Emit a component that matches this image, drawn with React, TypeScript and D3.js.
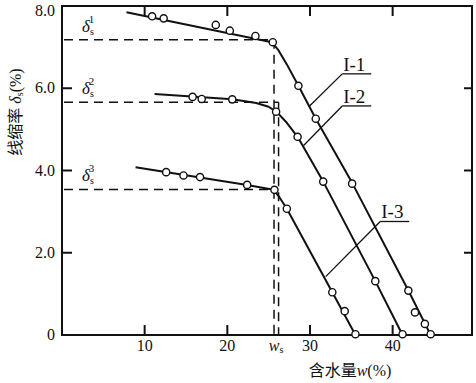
import React from "react";
import * as d3 from "d3";

// ---- data ----
const xTicks = [10, 20, 30, 40];
const yTicks = [0, 2, 4, 6, 8];
const yTickLabels = ["0", "2.0", "4.0", "6.0", "8.0"];

// line nodes (water content %, shrinkage %)
const lineI1: [number, number][] = [
  [7.8, 7.85], [25.4, 7.12], [26.2, 6.92], [27.2, 6.58], [28.6, 6.06], [30.7, 5.26], [35.1, 3.7], [41.9, 1.08], [44.6, 0.0],
];
const lineI2: [number, number][] = [
  [11.2, 5.86], [20.6, 5.73], [23.5, 5.64], [25.0, 5.55], [26.0, 5.42], [27.2, 5.16], [28.5, 4.82], [31.6, 3.73], [37.9, 1.31], [41.2, 0.0],
];
const lineI3: [number, number][] = [
  [8.9, 4.08], [22.4, 3.65], [25.6, 3.53], [26.3, 3.35], [27.2, 3.07], [32.7, 1.04], [35.5, 0.0],
];

const ptsI1: [number, number][] = [
  [10.9, 7.75], [12.3, 7.7], [18.6, 7.54], [20.3, 7.4], [23.4, 7.27], [25.5, 7.12], [28.6, 6.06], [30.7, 5.26], [35.1, 3.68], [41.9, 1.08], [42.7, 0.55], [43.9, 0.27], [44.6, 0.02],
];
const ptsI2: [number, number][] = [
  [15.8, 5.79], [16.9, 5.74], [20.6, 5.73], [25.9, 5.43], [28.5, 4.82], [31.6, 3.73], [37.9, 1.31], [41.2, 0.02],
];
const ptsI3: [number, number][] = [
  [12.6, 3.96], [14.7, 3.88], [16.7, 3.84], [22.4, 3.65], [25.7, 3.53], [27.2, 3.07], [32.7, 1.04], [34.2, 0.58], [35.5, 0.02],
];

const deltaS = [7.18, 5.66, 3.54];
const deltaSup = ["1", "2", "3"];
const wsLines = [25.65, 26.2];
const deltaEnds = [25.65, 26.2, 25.65];

const seriesLabels = ["I-1", "I-2", "I-3"];
// label anchor (data coords of underline start) and leader target (data coords)
const labelAnchors: [number, number][] = [[33.9, 6.35], [33.9, 5.57], [38.5, 2.76]];
const leaderTargets: [number, number][] = [[29.95, 5.57], [29.2, 4.6], [31.9, 1.42]];

const W = 476;
const H = 383;

export default function App() {
  const x = d3.scaleLinear().domain([0, 49.6]).range([62, 472]);
  const y = d3.scaleLinear().domain([0, 8]).range([335, 6]);
  const line = d3
    .line<[number, number]>()
    .x((d) => x(d[0]))
    .y((d) => y(d[1]))
    .curve(d3.curveLinear);

  const serif = "'Liberation Serif', 'DejaVu Serif', serif";
  const cjk = "'Noto Sans CJK SC', sans-serif";
  const dash = "9 6";

  return (
    <svg
      width={W}
      height={H}
      style={{ position: "absolute", left: 0, top: 0, background: "#fff" }}
    >
      <rect x={0} y={0} width={W} height={H} fill="#fff" />
      {/* frame */}
      <rect
        x={x(0)}
        y={y(8)}
        width={x(49.6) - x(0)}
        height={y(0) - y(8)}
        fill="none"
        stroke="#111"
        strokeWidth={2}
      />
      {/* x ticks */}
      {xTicks.map((t) => (
        <g key={"xt" + t}>
          <line x1={x(t)} x2={x(t)} y1={y(0)} y2={y(0) - 10} stroke="#111" strokeWidth={2} />
          <line x1={x(t)} x2={x(t)} y1={y(8)} y2={y(8) + 10} stroke="#111" strokeWidth={2} />
          <text x={x(t)} y={y(0) + 16} textAnchor="middle" fontFamily={serif} fontSize={16} fill="#111">
            {t}
          </text>
        </g>
      ))}
      {/* y ticks */}
      {yTicks.map((t, i) => (
        <g key={"yt" + t}>
          {t > 0 && t < 8 && (
            <>
              <line x1={x(0)} x2={x(0) + 10} y1={y(t)} y2={y(t)} stroke="#111" strokeWidth={2} />
              <line x1={x(49.6)} x2={x(49.6) - 8} y1={y(t)} y2={y(t)} stroke="#111" strokeWidth={2} />
            </>
          )}
          <text
            x={x(0) - 7}
            y={t === 8 ? y(t) + 10 : y(t) + 5}
            textAnchor="end"
            fontFamily={serif}
            fontSize={16}
            fill="#111"
          >
            {yTickLabels[i]}
          </text>
        </g>
      ))}
      {/* dashed reference lines */}
      {deltaS.map((d, i) => (
        <line
          key={"dh" + i}
          x1={x(0) + 2}
          x2={x(deltaEnds[i])}
          y1={y(d)}
          y2={y(d)}
          stroke="#111"
          strokeWidth={1.5}
          strokeDasharray={dash}
        />
      ))}
      {wsLines.map((w, i) => (
        <line
          key={"dv" + i}
          x1={x(w)}
          x2={x(w)}
          y1={y(deltaS[i])}
          y2={y(0)}
          stroke="#111"
          strokeWidth={1.5}
          strokeDasharray={dash}
        />
      ))}
      {/* delta labels */}
      {deltaS.map((d, i) => (
        <text key={"dl" + i} x={82} y={y(d) - 8} fontFamily={serif} fontSize={17} fill="#111">
          <tspan fontStyle="italic">δ</tspan>
          <tspan fontSize={10} dy={3}>s</tspan>
          <tspan fontSize={11} dx={-5} dy={-12}>{deltaSup[i]}</tspan>
        </text>
      ))}
      {/* series lines */}
      {[lineI1, lineI2, lineI3].map((l, i) => (
        <path
          key={"l" + i}
          d={line(l) || ""}
          fill="none"
          stroke="#111"
          strokeWidth={2}
          strokeLinejoin="round"
        />
      ))}
      {/* points */}
      {[ptsI1, ptsI2, ptsI3].map((pts, i) =>
        pts.map((p, j) => (
          <circle
            key={"p" + i + "-" + j}
            cx={x(p[0])}
            cy={y(p[1])}
            r={3.6}
            fill="#fff"
            stroke="#111"
            strokeWidth={1.4}
          />
        ))
      )}
      {/* series labels with leaders */}
      {seriesLabels.map((s, i) => {
        const ax = x(labelAnchors[i][0]);
        const ay = y(labelAnchors[i][1]);
        return (
          <g key={"sl" + i}>
            <line x1={ax} y1={ay} x2={ax + 29} y2={ay} stroke="#111" strokeWidth={1.3} />
            <line
              x1={ax}
              y1={ay}
              x2={x(leaderTargets[i][0])}
              y2={y(leaderTargets[i][1])}
              stroke="#111"
              strokeWidth={1.3}
            />
            <text x={ax + 1} y={ay - 3} fontFamily={serif} fontSize={19} fill="#111">
              {s}
            </text>
          </g>
        );
      })}
      {/* ws label */}
      <text x={x(25.9)} y={y(0) + 16} textAnchor="middle" fontFamily={serif} fontSize={16} fill="#111">
        <tspan fontStyle="italic">w</tspan>
        <tspan fontSize={10} dy={2}>s</tspan>
      </text>
      {/* axis titles */}
      <text x={350} y={376} textAnchor="middle" fontSize={16} fill="#111">
        <tspan fontFamily={cjk}>含水量</tspan>
        <tspan fontFamily={serif} fontStyle="italic">w</tspan>
        <tspan fontFamily={serif}>(%)</tspan>
      </text>
      <text
        transform={`translate(21,112) rotate(-90)`}
        textAnchor="middle"
        fontSize={16}
        fill="#111"
      >
        <tspan fontFamily={cjk}>线缩率</tspan>
        <tspan fontFamily={serif} fontStyle="italic"> δ</tspan>
        <tspan fontFamily={serif} fontSize={10} dy={2}>s</tspan>
        <tspan fontFamily={serif} dy={-2}>(%)</tspan>
      </text>
    </svg>
  );
}
